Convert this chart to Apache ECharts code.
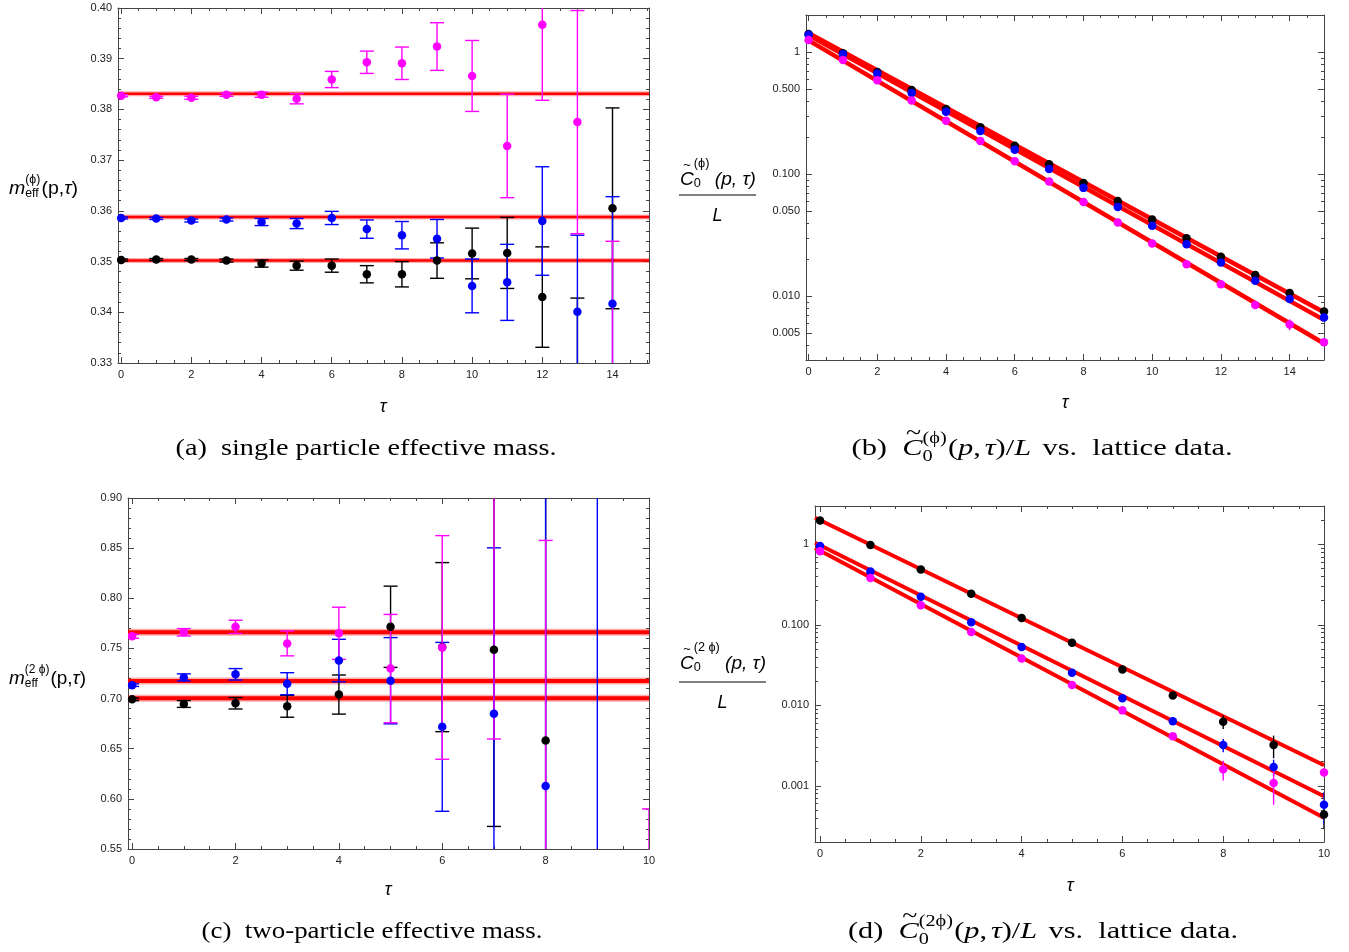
<!DOCTYPE html>
<html><head><meta charset="utf-8">
<script src="https://cdn.jsdelivr.net/npm/echarts@6/dist/echarts.min.js"></script>
<style>html,body{margin:0;padding:0;background:#fff}#c{width:1349px;height:952px}</style>
</head><body><div id="c"></div>
<script>
// ================= DATA =================
// Panel (a): single-particle effective mass
const tauA = [0,1,2,3,4,5,6,7,8,9,10,11,12,13,14];
const mA_black     = [0.3503,0.3504,0.3504,0.3502,0.3496,0.3492,0.3492,0.3475,0.3475,0.3502,0.3516,0.3517,0.3430,0.3200,0.3605];
const mA_black_err = [0.0002,0.0002,0.0002,0.0003,0.0007,0.0009,0.0013,0.0017,0.0025,0.0035,0.0050,0.0070,0.0099,0.0228,0.0198];
const mA_blue      = [0.3586,0.3585,0.3581,0.3583,0.3578,0.3575,0.3586,0.3564,0.3552,0.3545,0.3452,0.3459,0.3580,0.3401,0.3417];
const mA_blue_err  = [0.0002,0.0002,0.0003,0.0003,0.0007,0.0010,0.0013,0.0018,0.0027,0.0038,0.0053,0.0075,0.0107,0.0151,0.0211];
const mA_mag       = [0.3827,0.3824,0.3823,0.3829,0.3829,0.3821,0.3859,0.3893,0.3891,0.3924,0.3866,0.3728,0.3967,0.3775,0.3180];
const mA_mag_err   = [0.0002,0.0002,0.0003,0.0003,0.0005,0.0010,0.0016,0.0022,0.0032,0.0047,0.0070,0.0102,0.0149,0.0220,0.0360];
const fitA      = [0.3502, 0.3588, 0.3831];
const fitA_err  = [0.0005, 0.0005, 0.0005];
const xTicksA = [0,2,4,6,8,10,12,14];
const yTicksA = [0.33,0.34,0.35,0.36,0.37,0.38,0.39,0.40];

// Panel (b): single-particle correlator C0/L (log)
const tauB = [0,1,2,3,4,5,6,7,8,9,10,11,12,13,14,15];
const cB_black = [1.41,0.98,0.69,0.491,0.343,0.243,0.171,0.121,0.0849,0.0604,0.0425,0.0299,0.0211,0.0149,0.01065,0.00748];
const cB_blue  = [1.39,0.963,0.668,0.464,0.326,0.226,0.159,0.1106,0.0773,0.054,0.0379,0.0267,0.0189,0.0134,0.0095,0.00668];
const cB_mag   = [1.26,0.865,0.589,0.402,0.274,0.1875,0.128,0.0871,0.0593,0.0402,0.0270,0.0183,0.01254,0.00849,0.00586,0.0042];
const cB_black_err = [0.01,0.006,0.004,0.003,0.002,0.0015,0.001,0.0008,0.0006,0.0005,0.0004,0.0003,0.0002,0.0002,0.0002,0.0002];
const cB_blue_err  = [0.01,0.006,0.004,0.003,0.002,0.0015,0.001,0.0008,0.0006,0.0005,0.0004,0.0003,0.0002,0.0002,0.0002,0.0002];
const cB_mag_err   = [0.01,0.006,0.004,0.003,0.002,0.0015,0.001,0.0008,0.0006,0.0005,0.0004,0.0003,0.0002,0.0003,0.0006,0.0002];
const fitB_black = [1.47, 0.0074];
const fitB_blue  = [1.42, 0.0064];
const fitB_mag   = [1.286, 0.0041];
const yTicksB = [0.005,0.01,0.05,0.1,0.5,1];
const yLabelsB = ['0.005','0.010','0.050','0.100','0.500','1'];
const xTicksB = [0,2,4,6,8,10,12,14];

// Panel (c): two-particle effective mass
const tauC = [0,1,2,3,4,5,6,7,8,9,10];
const mC_black     = [0.6993,0.6946,0.6953,0.6923,0.7040,0.7716,0.7513,0.7487,0.6581,null,null];
const mC_black_err = [0.0013,0.0034,0.0057,0.0109,0.0195,0.0405,0.0843,0.1762,0.3000,null,null];
const mC_blue      = [0.7134,0.7211,0.7242,0.7148,0.7379,0.7178,0.6718,0.6849,0.6128,0.3000,null];
const mC_blue_err  = [0.0013,0.0035,0.0057,0.0110,0.0212,0.0430,0.0842,0.1654,0.4000,1.0000,null];
const mC_mag       = [0.7621,0.7661,0.7715,0.7550,0.7651,0.7299,0.7510,0.9600,0.5200,null,0.4000];
const mC_mag_err   = [0.0020,0.0037,0.0066,0.0124,0.0260,0.0540,0.1115,0.3003,0.3377,null,0.1900];
const fitC     = [0.7003, 0.7175, 0.7661];
const fitC_err = [0.0035, 0.0035, 0.0035];
const xTicksC = [0,2,4,6,8,10];
const yTicksC = [0.55,0.60,0.65,0.70,0.75,0.80,0.85,0.90];

// Panel (d): two-particle correlator C0/L (log)
const tauD = [0,1,2,3,4,5,6,7,8,9,10];
const cD_black = [1.98,0.98,0.487,0.244,0.122,0.0601,0.0279,0.01323,0.00626,0.0032,0.00044];
const cD_blue  = [0.953,0.46,0.224,0.108,0.0532,0.0254,0.01227,0.00633,0.0032,0.00171,0.00058];
const cD_mag   = [0.82,0.381,0.175,0.0814,0.0382,0.0179,0.00865,0.00413,0.0016,0.00108,0.00146];
const cD_black_err = [0.02,0.01,0.005,0.0025,0.0012,0.0007,0.0004,0.0005,0.0012,0.0010,0.00015];
const cD_blue_err  = [0.01,0.005,0.0025,0.0012,0.0006,0.0003,0.0002,0.0002,0.0006,0.0004,0.00025];
const cD_mag_err   = [0.01,0.004,0.002,0.001,0.0005,0.0003,0.0002,0.0002,0.00044,0.0005,0.0001];
const fitD_black = [2.145, 0.0018];
const fitD_blue  = [1.05, 0.00074];
const fitD_mag   = [0.90, 0.0004];
const yTicksD = [0.001,0.01,0.1,1];
const yLabelsD = ['0.001','0.010','0.100','1'];
const xTicksD = [0,2,4,6,8,10];

// ================= STYLE / LAYOUT =================
const BLACK = '#000000', BLUE = '#0000ff', MAG = '#ff00ff', RED = '#ff0000', PINK = 'rgba(255,0,0,0.32)';
const FRAME = '#444444', LABEL = '#222222';
const SANS = '"Liberation Sans", Arial, sans-serif';
const XR = { a: [-0.09, 15.04], b: [-0.075, 15.0], c: [-0.08, 10.0], d: [-0.1, 10.0] };
const YR = { a: [0.33, 0.40], b: [0.003, 2.02], c: [0.55, 0.90], d: [0.0002, 3.0] };
const grids = [
  {left:118, top:8,   width:531, height:355},
  {left:806, top:15,  width:518, height:345},
  {left:128, top:498, width:521, height:351},
  {left:815, top:506, width:509, height:336}
];

function stepTicks(a, b, s) { const out = []; for (let v = a; v <= b + 1e-9; v += s) out.push(+v.toFixed(6)); return out; }
function logMinor(lo, hi, majors) {
  const out = [];
  for (let e = -5; e <= 1; e++) for (let m = 1; m <= 9; m++) {
    const v = +(m * Math.pow(10, e)).toPrecision(6);
    if (v >= lo && v <= hi && !majors.some(t => Math.abs(t - v) / v < 1e-6)) out.push(v);
  }
  return out;
}
function mkAxis(g, pos, type, range, ticks, len, line, label) {
  const a = {
    type, gridIndex: g, position: pos, min: range[0], max: range[1], silent: true,
    axisLine: { show: line, onZero: false, lineStyle: { color: FRAME, width: 1 } },
    axisTick: { show: true, inside: true, length: len, customValues: ticks, lineStyle: { color: FRAME, width: 1 } },
    axisLabel: label ? { show: true, customValues: label.values, formatter: label.fmt, fontFamily: SANS, fontSize: 11, color: LABEL, margin: 6 } : { show: false },
    splitLine: { show: false }, minorTick: { show: false }, axisPointer: { show: false }
  };
  if (type === 'log') a.logBase = 10;
  return a;
}
const xAxis = [], yAxis = [];
function frame(g, xType, xr, xMaj, xMin, xLab, yType, yr, yMaj, yMin, yLab) {
  xAxis.push(mkAxis(g, 'bottom', xType, xr, xMaj, 6, true, xLab));
  xAxis.push(mkAxis(g, 'bottom', xType, xr, xMin, 3, false, null));
  xAxis.push(mkAxis(g, 'top', xType, xr, xMaj, 6, true, null));
  xAxis.push(mkAxis(g, 'top', xType, xr, xMin, 3, false, null));
  yAxis.push(mkAxis(g, 'left', yType, yr, yMaj, 6, true, yLab));
  yAxis.push(mkAxis(g, 'left', yType, yr, yMin, 3, false, null));
  yAxis.push(mkAxis(g, 'right', yType, yr, yMaj, 6, true, null));
  yAxis.push(mkAxis(g, 'right', yType, yr, yMin, 3, false, null));
}
const intFmt = v => String(Math.round(v));
function lookupFmt(vals, labs) { return v => { for (let i = 0; i < vals.length; i++) if (Math.abs(vals[i] - v) / vals[i] < 1e-4) return labs[i]; return ''; }; }

frame(0, 'value', XR.a, xTicksA, stepTicks(0, 15, 0.5), {values: xTicksA, fmt: intFmt},
         'value', YR.a, yTicksA, stepTicks(0.33, 0.40, 0.002), {values: yTicksA, fmt: v => v.toFixed(2)});
frame(1, 'value', XR.b, xTicksB, stepTicks(0, 15, 0.5), {values: xTicksB, fmt: intFmt},
         'log', YR.b, yTicksB, logMinor(YR.b[0], YR.b[1], yTicksB), {values: yTicksB, fmt: lookupFmt(yTicksB, yLabelsB)});
frame(2, 'value', XR.c, xTicksC, stepTicks(0, 10, 0.5), {values: xTicksC, fmt: intFmt},
         'value', YR.c, yTicksC, stepTicks(0.55, 0.90, 0.01), {values: yTicksC, fmt: v => v.toFixed(2)});
frame(3, 'value', XR.d, xTicksD, stepTicks(0, 10, 0.5), {values: xTicksD, fmt: intFmt},
         'log', YR.d, yTicksD, logMinor(YR.d[0], YR.d[1], yTicksD), {values: yTicksD, fmt: lookupFmt(yTicksD, yLabelsD)});

// ================= SERIES =================
const series = [];
function errBars(g, xs, ys, es, color, capHalf, lw, isLog) {
  const data = [];
  xs.forEach((x, i) => { if (ys[i] != null) data.push([x, ys[i], es[i]]); });
  series.push({
    type: 'custom', xAxisIndex: 4*g, yAxisIndex: 4*g, clip: true, silent: true, z: 3, data,
    renderItem(params, api) {
      const x = api.value(0), y = api.value(1), e = api.value(2);
      let lo = y - e; if (isLog && lo <= 0) lo = y * 1e-3;
      const p1 = api.coord([x, y + e]), p2 = api.coord([x, lo]);
      const st = { stroke: color, lineWidth: lw };
      const ch = [{ type: 'line', shape: { x1: p1[0], y1: p1[1], x2: p2[0], y2: p2[1] }, style: st }];
      if (capHalf > 0) {
        ch.push({ type: 'line', shape: { x1: p1[0]-capHalf, y1: p1[1], x2: p1[0]+capHalf, y2: p1[1] }, style: st });
        ch.push({ type: 'line', shape: { x1: p2[0]-capHalf, y1: p2[1], x2: p2[0]+capHalf, y2: p2[1] }, style: st });
      }
      return { type: 'group', children: ch };
    }
  });
}
function points(g, xs, ys, color, size) {
  const data = [];
  xs.forEach((x, i) => { if (ys[i] != null) data.push([x, ys[i]]); });
  series.push({ type: 'scatter', xAxisIndex: 4*g, yAxisIndex: 4*g, data, symbol: 'circle', symbolSize: size,
    itemStyle: { color, opacity: 1 }, clip: true, silent: true, z: 4 });
}
function bands(g, vals, errs, xMin, core) {
  series.push({
    type: 'custom', xAxisIndex: 4*g, yAxisIndex: 4*g, clip: true, silent: true, z: 1,
    data: vals.map((v, i) => [xMin, v, errs[i]]),
    renderItem(params, api) {
      const cs = params.coordSys;
      const x = api.value(0), v = api.value(1), e = api.value(2);
      const yT = api.coord([x, v + e])[1], yB = api.coord([x, v - e])[1], yC = api.coord([x, v])[1];
      return { type: 'group', children: [
        { type: 'rect', shape: { x: cs.x, y: yT, width: cs.width, height: yB - yT }, style: { fill: PINK } },
        { type: 'rect', shape: { x: cs.x, y: yC - core/2, width: cs.width, height: core }, style: { fill: RED } }
      ]};
    }
  });
}
function fitLine(g, xr, ends, width) {
  series.push({ type: 'line', xAxisIndex: 4*g, yAxisIndex: 4*g, data: [[xr[0], ends[0]], [xr[1], ends[1]]],
    showSymbol: false, symbol: 'none', lineStyle: { color: RED, width }, clip: true, silent: true, z: 2 });
}

// (a)
bands(0, fitA, fitA_err, XR.a[0], 2.4);
errBars(0, tauA, mA_black, mA_black_err, BLACK, 7, 1.4); points(0, tauA, mA_black, BLACK, 8.5);
errBars(0, tauA, mA_blue, mA_blue_err, BLUE, 7, 1.4);    points(0, tauA, mA_blue, BLUE, 8.5);
errBars(0, tauA, mA_mag, mA_mag_err, MAG, 7, 1.4);       points(0, tauA, mA_mag, MAG, 8.5);
// (b)
fitLine(1, XR.b, fitB_black, 4.5); fitLine(1, XR.b, fitB_blue, 4.5); fitLine(1, XR.b, fitB_mag, 4.5);
errBars(1, tauB, cB_black, cB_black_err, BLACK, 0, 1.4, true); points(1, tauB, cB_black, BLACK, 8.5);
errBars(1, tauB, cB_blue, cB_blue_err, BLUE, 0, 1.4, true);    points(1, tauB, cB_blue, BLUE, 8.5);
errBars(1, tauB, cB_mag, cB_mag_err, MAG, 0, 1.4, true);       points(1, tauB, cB_mag, MAG, 8.5);
// (c)
bands(2, fitC, fitC_err, XR.c[0], 4);
errBars(2, tauC, mC_black, mC_black_err, BLACK, 7, 1.4); points(2, tauC, mC_black, BLACK, 8.5);
errBars(2, tauC, mC_blue, mC_blue_err, BLUE, 7, 1.4);    points(2, tauC, mC_blue, BLUE, 8.5);
errBars(2, tauC, mC_mag, mC_mag_err, MAG, 7, 1.4);       points(2, tauC, mC_mag, MAG, 8.5);
// (d)
fitLine(3, XR.d, fitD_black, 4); fitLine(3, XR.d, fitD_blue, 4); fitLine(3, XR.d, fitD_mag, 4);
errBars(3, tauD, cD_black, cD_black_err, BLACK, 0, 1.4, true); points(3, tauD, cD_black, BLACK, 8.5);
errBars(3, tauD, cD_blue, cD_blue_err, BLUE, 0, 1.4, true);    points(3, tauD, cD_blue, BLUE, 8.5);
errBars(3, tauD, cD_mag, cD_mag_err, MAG, 0, 1.4, true);       points(3, tauD, cD_mag, MAG, 8.5);

// ================= TEXT (titles, captions) =================
const mctx = document.createElement('canvas').getContext('2d');
function tw(t, f) { mctx.font = f; return mctx.measureText(t).width; }
// lays out a run of text pieces; optional target width stretches horizontally to match
function runEls(parts, x0, y0, anchor, targetW) {
  let x = 0, baseX = 0, baseW = 0; const items = [];
  for (const p of parts) {
    const w = tw(p.t, p.f);
    if (p.stack) { items.push({ p, x: baseX + (p.dx || 0) }); baseW = Math.max(baseW, w + (p.dx || 0)); }
    else { baseX = x; baseW = w; items.push({ p, x: baseX + (p.dx || 0) }); }
    x = baseX + baseW + (p.gap || 0);
  }
  const s = targetW ? targetW / x : 1;
  const sx = anchor === 'center' ? x0 - x * s / 2 : x0;
  return items.map(it => ({ type: 'text', silent: true, x: sx + it.x * s, y: y0 + (it.p.dy || 0), scaleX: s, scaleY: 1,
    style: { text: it.p.t, font: it.p.f, fill: it.p.c || '#000', align: 'left', verticalAlign: 'middle' } }));
}
const F  = s => s + 'px ' + SANS;
const FI = s => 'italic ' + s + 'px ' + SANS;
const SER  = s => s + 'px "Liberation Serif", serif';
const SERI = s => 'italic ' + s + 'px "Liberation Serif", serif';

const g = [];
// y titles (a), (c)
g.push(...runEls([{t:'m', f:FI(19)}, {t:'(ϕ)', f:F(12), dy:-9}, {t:'eff', f:F(12), dy:5, stack:true, gap:1},
  {t:'(p,', f:F(19)}, {t:'τ', f:FI(19)}, {t:')', f:F(19)}], 9, 189, 'left', 69));
g.push(...runEls([{t:'m', f:FI(19)}, {t:'(2 ϕ)', f:F(12), dy:-9}, {t:'eff', f:F(12), dy:5, stack:true, gap:1},
  {t:'(p,', f:F(19)}, {t:'τ', f:FI(19)}, {t:')', f:F(19)}], 9, 679, 'left', 77));
// y titles (b), (d): fractions
function fracTitle(sup, x0, yNum, yLine, xLineEnd, yL, wNum) {
  const els = runEls([{t:'C', f:FI(18)}, {t:'~', f:F(12), dy:-14, dx:3, stack:true},
    {t:sup, f:F(12), dy:-16, gap:5}, {t:'0', f:F(12), dy:4, stack:true, gap:5},
    {t:'(p, τ)', f:FI(18)}], x0, yNum, 'left', wNum);
  els.push({ type: 'line', silent: true, shape: { x1: x0 - 1, y1: yLine, x2: xLineEnd, y2: yLine }, style: { stroke: '#000', lineWidth: 1 } });
  els.push({ type: 'text', silent: true, x: (x0 - 1 + xLineEnd) / 2, y: yL, style: { text: 'L', font: FI(18), fill: '#000', align: 'center', verticalAlign: 'middle' } });
  return els;
}
g.push(...fracTitle('(ϕ)', 680, 180, 195, 756, 216, 76));
g.push(...fracTitle('(2 ϕ)', 680, 664, 682, 766, 703, 86));
// tau axis names
[[383, 407], [1065, 403], [388, 890], [1070, 886]].forEach(p => g.push({ type: 'text', silent: true, x: p[0], y: p[1],
  style: { text: 'τ', font: FI(18), fill: '#000', align: 'center', verticalAlign: 'middle' } }));
// captions
g.push(...runEls([{t:'(a)', f:SER(24), gap:12}, {t:'single particle effective mass.', f:SER(24)}], 366, 449, 'center', 381));
g.push(...runEls([{t:'(c)', f:SER(24), gap:12}, {t:'two-particle effective mass.', f:SER(24)}], 372, 932, 'center', 341));
function capMath(label, sup, cx, cy, wTot) {
  return runEls([{t:label, f:SER(24), gap:12}, {t:'C', f:SERI(24)}, {t:'~', f:SER(22), dy:-16, dx:3, stack:true},
    {t:sup, f:SER(16), dy:-10, gap:1}, {t:'0', f:SER(16), dy:8, stack:true, gap:1},
    {t:'(', f:SER(24)}, {t:'p', f:SERI(24)}, {t:',', f:SER(24), gap:3}, {t:'τ', f:SERI(24)}, {t:')/', f:SER(24)},
    {t:'L', f:SERI(24), gap:9}, {t:'vs.  lattice data.', f:SER(24)}], cx, cy, 'center', wTot);
}
g.push(...capMath('(b)', '(ϕ)', 1042, 449, 381));
g.push(...capMath('(d)', '(2ϕ)', 1043, 932, 390));

const chart = echarts.init(document.getElementById('c'), null, { renderer: 'canvas' });
chart.setOption({
  animation: false, backgroundColor: '#ffffff',
  textStyle: { fontFamily: SANS },
  grid: grids.map(gr => Object.assign({ containLabel: false }, gr)),
  xAxis, yAxis, series,
  graphic: { elements: g }
});
</script></body></html>
